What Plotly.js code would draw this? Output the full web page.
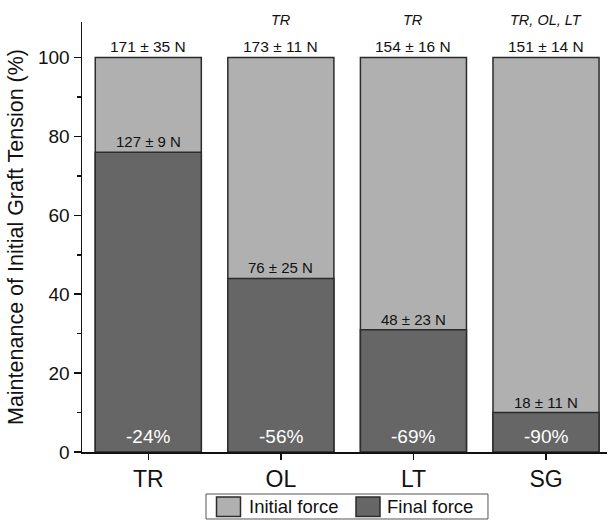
<!DOCTYPE html>
<html>
<head>
<meta charset="utf-8">
<script src="https://cdn.plot.ly/plotly-3.0.1.min.js"></script>
<style>html,body{margin:0;padding:0;background:#fff;}#chart{width:608px;height:521px;}</style>
</head>
<body>
<div id="chart"></div>
<script>
const categories = ["TR", "OL", "LT", "SG"];
const seriesNames = ["Initial force", "Final force"];
const initialPct = [100, 100, 100, 100];
const finalPct = [76, 44, 31, 10];
const initialLabels = ["171 ± 35 N", "173 ± 11 N", "154 ± 16 N", "151 ± 14 N"];
const sigLabels = ["", "TR", "TR", "TR, OL, LT"];
const finalLabels = ["127 ± 9 N", "76 ± 25 N", "48 ± 23 N", "18 ± 11 N"];
const changeLabels = ["-24%", "-56%", "-69%", "-90%"];
const yTicks = [0, 20, 40, 60, 80, 100];

const FONT = "Liberation Sans, Arial, sans-serif";
const colors = ["#b0b0b0", "#666666"];
const outline = {color: "#2b2b2b", width: 1.5};

const traces = [
  {type: "bar", name: seriesNames[0], x: categories, y: initialPct, width: 0.8,
   marker: {color: colors[0], line: outline}, hoverinfo: "skip"},
  {type: "bar", name: seriesNames[1], x: categories, y: finalPct, width: 0.8,
   marker: {color: colors[1], line: outline}, hoverinfo: "skip"}
];

const annotations = [];
categories.forEach((c, i) => {
  annotations.push({x: c, y: initialPct[i], text: initialLabels[i], showarrow: false,
    yanchor: "bottom", yshift: 1, font: {family: FONT, size: 15.5, color: "#111"}});
  if (sigLabels[i]) annotations.push({x: c, y: initialPct[i], text: "<i>" + sigLabels[i] + "</i>", showarrow: false,
    yanchor: "bottom", yshift: 28, font: {family: FONT, size: 14.5, color: "#111"}});
  annotations.push({x: c, y: finalPct[i], text: finalLabels[i], showarrow: false,
    yanchor: "bottom", yshift: 0, font: {family: FONT, size: 15, color: "#111"}});
  annotations.push({x: c, y: 0, text: changeLabels[i], showarrow: false,
    yanchor: "bottom", yshift: 3, font: {family: FONT, size: 19, color: "#ffffff"}});
});

// Legend drawn in paper coordinates (box, swatches, labels)
const shapes = [
  {type: "rect", xref: "paper", yref: "paper", x0: 0.2362, x1: 0.7733, y0: -0.1558, y1: -0.0977,
   line: {color: "#555", width: 1}, fillcolor: "#fff"}
];
const swatchX = [0.2562, 0.5219];
const labelX = [0.3143, 0.5771];
seriesNames.forEach((n, i) => {
  shapes.push({type: "rect", xref: "paper", yref: "paper", x0: swatchX[i], x1: swatchX[i] + 0.0457,
    y0: -0.1500, y1: -0.1047, line: {color: "#2b2b2b", width: 1.5}, fillcolor: colors[i]});
  annotations.push({xref: "paper", yref: "paper", x: labelX[i], y: -0.1267, xanchor: "left", yanchor: "middle",
    text: n, showarrow: false, font: {family: FONT, size: 18.5, color: "#111"}});
});

const layout = {
  width: 608, height: 521,
  margin: {l: 82, r: 1, t: 22, b: 69, autoexpand: false},
  paper_bgcolor: "#fff", plot_bgcolor: "#fff",
  barmode: "overlay",
  font: {family: FONT, color: "#111"},
  xaxis: {type: "category", range: [-0.5, 3.46], showline: true, linecolor: "#111", linewidth: 1.5,
    ticks: "outside", ticklen: 6, tickwidth: 1.5, tickcolor: "#111",
    tickfont: {family: FONT, size: 23, color: "#111"}, showgrid: false, zeroline: false, fixedrange: true},
  yaxis: {range: [0, 109], tickvals: yTicks, showline: true, linecolor: "#111", linewidth: 1.5,
    ticks: "outside", ticklen: 7, tickwidth: 1.5, tickcolor: "#111",
    minor: {dtick: 10, ticks: "outside", ticklen: 4, tickwidth: 1.5, tickcolor: "#111", showgrid: false},
    tickfont: {family: FONT, size: 19, color: "#111"}, showgrid: false, zeroline: false,
    title: {text: "Maintenance of Initial Graft Tension (%)", font: {family: FONT, size: 21.5, color: "#111"}, standoff: 8},
    fixedrange: true},
  showlegend: false,
  shapes: shapes,
  annotations: annotations
};

Plotly.newPlot("chart", traces, layout, {displayModeBar: false, staticPlot: true});
</script>
</body>
</html>
